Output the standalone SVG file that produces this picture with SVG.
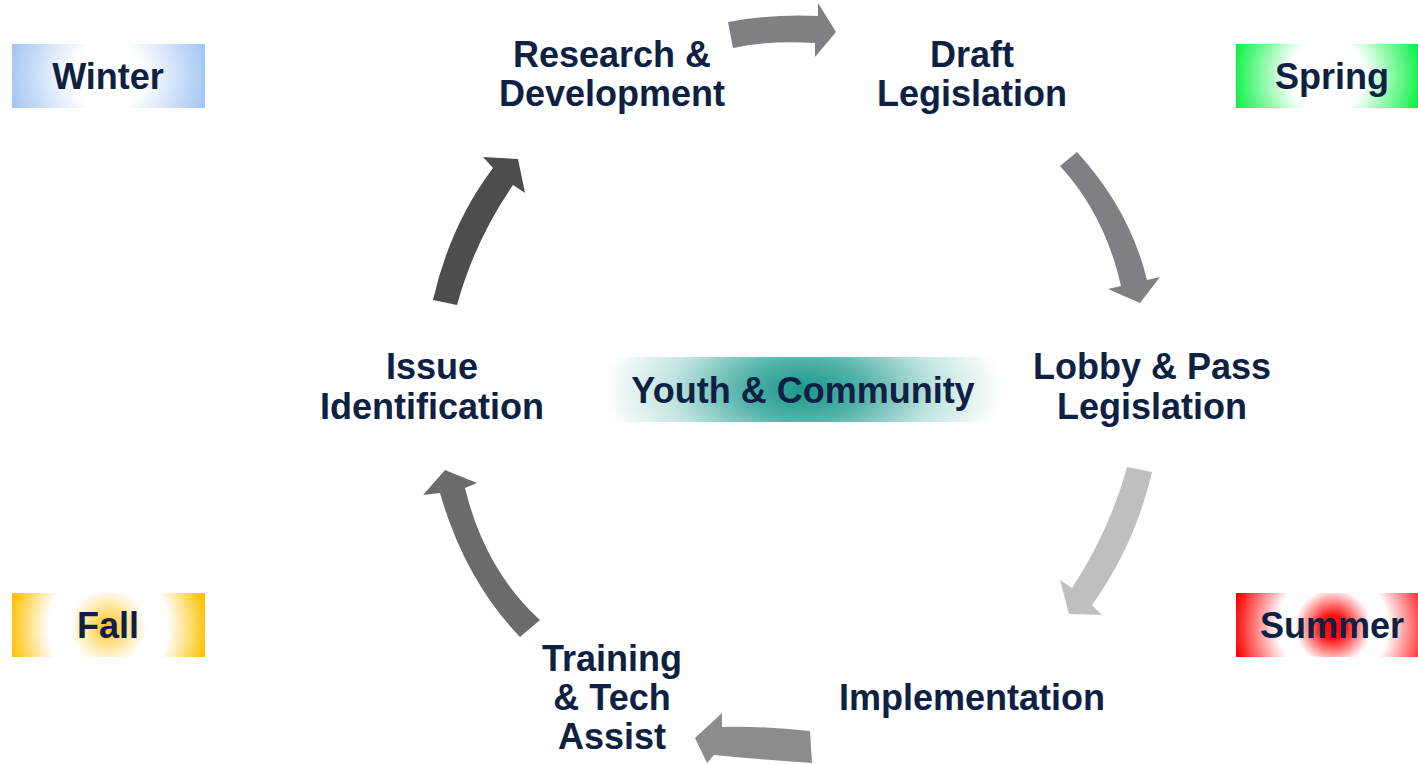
<svg xmlns="http://www.w3.org/2000/svg" width="1418" height="764" viewBox="0 0 1418 764">
<defs>
<radialGradient id="gWinter" gradientUnits="userSpaceOnUse" cx="108" cy="76" r="100">
<stop offset="0" stop-color="#ffffff"/><stop offset="0.35" stop-color="#ffffff"/><stop offset="1" stop-color="#a3c5f2"/>
</radialGradient>
<radialGradient id="gSpring" gradientUnits="userSpaceOnUse" cx="1327" cy="76" r="98">
<stop offset="0" stop-color="#ffffff"/><stop offset="0.38" stop-color="#ffffff"/><stop offset="1" stop-color="#00f03c"/>
</radialGradient>
<radialGradient id="gSummer" gradientUnits="userSpaceOnUse" cx="1333" cy="627" r="100">
<stop offset="0" stop-color="#ff0000"/><stop offset="0.12" stop-color="#ff1010"/><stop offset="0.38" stop-color="#ffffff"/><stop offset="0.55" stop-color="#ffffff"/><stop offset="1" stop-color="#ff0000"/>
</radialGradient>
<radialGradient id="gFall" gradientUnits="userSpaceOnUse" cx="108" cy="627" r="100">
<stop offset="0" stop-color="#ffc000"/><stop offset="0.14" stop-color="#ffdc78"/><stop offset="0.38" stop-color="#ffffff"/><stop offset="0.6" stop-color="#ffffff"/><stop offset="1" stop-color="#ffc000"/>
</radialGradient>
<radialGradient id="gYouth" gradientUnits="userSpaceOnUse" cx="803" cy="390" r="200" gradientTransform="translate(803 390) scale(1 0.5) translate(-803 -390)">
<stop offset="0" stop-color="#1a978c"/><stop offset="0.3" stop-color="#52b2a9"/><stop offset="0.65" stop-color="#bfe3df"/><stop offset="1" stop-color="#ffffff"/>
</radialGradient>
</defs>
<style>
.t{font-family:"Liberation Sans",Arial,sans-serif;font-weight:bold;font-size:36px;fill:#0e2142;text-anchor:middle}
</style>
<rect width="1418" height="764" fill="#ffffff"/>
<g id="connectors">
<path d="M728,22 Q770,14 818,16 L818,3 L836,32 L815,57 L815,43 Q770,40 733,48 Z" fill="#808084"/>
<path d="M1077,152 Q1130,210 1147,280 L1160,277 L1140,303 L1108,289 L1121,286 Q1105,215 1060,166 Z" fill="#808084"/>
<path d="M1127,467 L1152,472 Q1135,545 1092,605 L1102,615 L1069,614 L1060,580 L1072,588 Q1110,530 1127,467 Z" fill="#bfbfbf"/>
<path d="M810,731 Q765,726 722,727 L722,713 L695,738 L707,763 L714,755 Q765,760 812,763 Z" fill="#8c8c8c"/>
<path d="M520,637 Q465,580 440,493 L423,495 L445,470 L477,483 L465,488 Q485,570 540,620 Z" fill="#6b6b6b"/>
<path d="M433,300 Q450,225 493,168 L483,157 L518,159 L525,193 L513,185 Q475,240 457,305 Z" fill="#4d4d4d"/>
</g>
<g id="winter"><rect x="12" y="44" width="193" height="64" fill="url(#gWinter)"/><text class="t" x="108" y="89">Winter</text></g>
<g id="spring"><rect x="1236" y="44" width="182" height="64" fill="url(#gSpring)"/><text class="t" x="1332" y="89">Spring</text></g>
<g id="summer"><rect x="1236" y="593" width="182" height="64" fill="url(#gSummer)"/><text class="t" x="1332" y="638">Summer</text></g>
<g id="fall"><rect x="12" y="593" width="193" height="64" fill="url(#gFall)"/><text class="t" x="108" y="638">Fall</text></g>
<g id="youth"><rect x="608" y="357" width="392" height="65" fill="url(#gYouth)"/><text class="t" x="803" y="403">Youth &amp; Community</text></g>
<g id="research"><text class="t" x="612" y="67">Research &amp;</text><text class="t" x="612" y="106">Development</text></g>
<g id="draft"><text class="t" x="972" y="67">Draft</text><text class="t" x="972" y="106">Legislation</text></g>
<g id="lobby"><text class="t" x="1152" y="379">Lobby &amp; Pass</text><text class="t" x="1152" y="419">Legislation</text></g>
<g id="implementation"><text class="t" x="972" y="710">Implementation</text></g>
<g id="training"><text class="t" x="612" y="671">Training</text><text class="t" x="612" y="710">&amp; Tech</text><text class="t" x="612" y="749">Assist</text></g>
<g id="issue"><text class="t" x="432" y="379">Issue</text><text class="t" x="432" y="419">Identification</text></g>
</svg>
